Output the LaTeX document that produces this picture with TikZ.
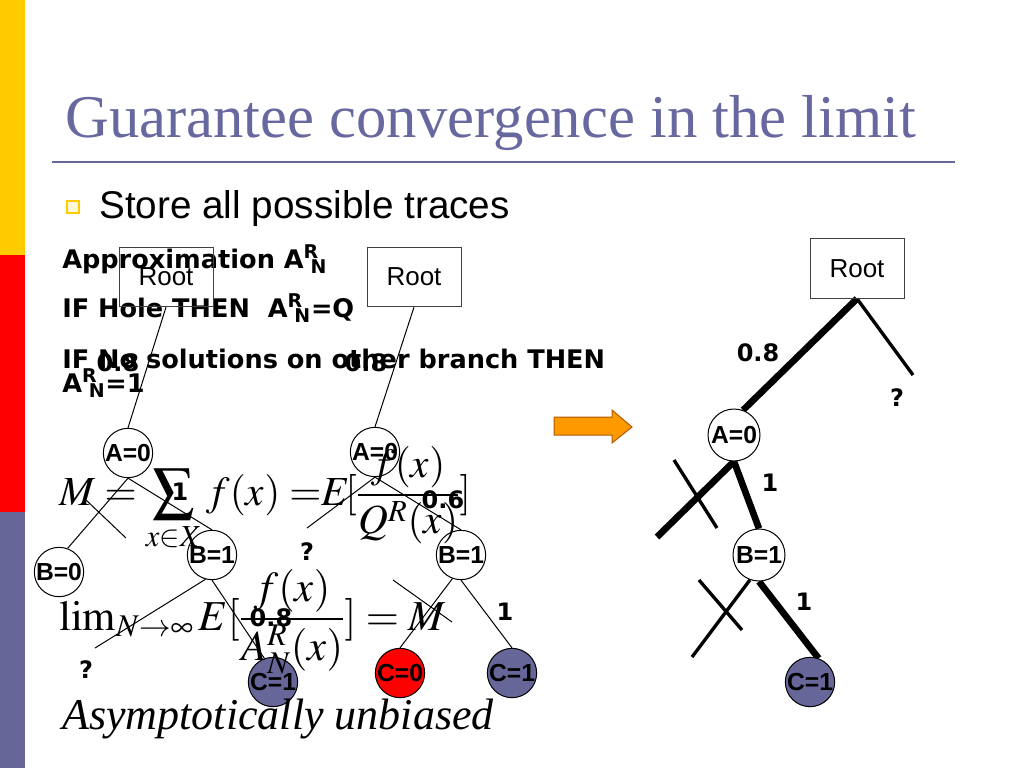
\documentclass[tikz,border=0pt]{standalone}
\usepackage{mathptmx}
\usepackage{fontspec}
\setmainfont{Liberation Serif}
\newfontfamily\arialfont{Liberation Sans}
\newfontfamily\verdanafont{DejaVu Sans}
\usetikzlibrary{positioning}
\usetikzlibrary{backgrounds}

\definecolor{slate}{RGB}{102,102,153}
\definecolor{titleblue}{RGB}{104,104,160}
\definecolor{baryellow}{RGB}{255,204,0}
\definecolor{arroworange}{RGB}{255,153,0}

\newcommand{\arn}{A\textsuperscript{R}\kern-0.33em\textsubscript{N}}

\tikzset{
  rootbox/.style={draw=black!75, line width=0.75pt, minimum width=70.5pt, minimum height=44.5pt, inner sep=0pt, font=\arialfont\fontsize{19.5}{19.5}\selectfont},
  varnode/.style={circle, draw, line width=0.75pt, fill=white, inner sep=0pt, minimum size=37pt, font=\arialfont\bfseries\fontsize{18.5}{18.5}\selectfont},
  bigvar/.style={varnode, minimum size=39pt},
  edgelabel/.style={inner sep=0pt, font=\verdanafont\bfseries\fontsize{18}{18}\selectfont},
  ruletext/.style={anchor=base west, inner sep=0pt, font=\verdanafont\bfseries\fontsize{19.2}{19.2}\selectfont},
  thinedge/.style={line width=0.75pt},
  midedge/.style={line width=2.5pt},
  thickedge/.style={line width=5pt}
}

\begin{document}
\begin{tikzpicture}[x=0.75pt,y=-0.75pt]
\useasboundingbox (0,0) rectangle (1024,768);
\fill[baryellow] (0,0) rectangle (25,255);
\fill[red] (0,255) rectangle (25,512);
\fill[slate] (0,512) rectangle (25,768);

\node[anchor=base west, inner sep=0pt, text=titleblue, font=\fontsize{45.5}{45.5}\selectfont] (title) at (65,137) {Guarantee convergence in the limit};
\draw[slate, line width=2pt] (52,162) -- (955,162);
\draw[baryellow, line width=2.2pt, fill=baryellow!15] (67,201) rectangle (79,213);
\node[anchor=base west, inner sep=0pt, font=\arialfont\fontsize{29}{29}\selectfont] (bullet) at (99,218) {Store all possible traces};

\node[ruletext] (approx) at (62,268) {Approximation \arn};
\node[ruletext] (hole) at (62,317) {IF Hole THEN\ \ \arn=Q};
\node[ruletext] (nosol) at (62,368) {IF No solutions on other branch THEN};
\node[ruletext] (one) at (62,392) {\arn=1};

\node[rootbox] (R1) at (166,277) {Root};
\node[varnode] (A1) at (128,453) {A=0};
\node[varnode] (B01) at (59,572) {B=0};
\node[varnode] (B11) at (212,555) {B=1};
\node[varnode, fill=slate] (C11) at (273,682) {C=1};
\coordinate (q1) at (95,648);
\coordinate (x1a) at (86,500);
\coordinate (x1b) at (126,538);
\node[edgelabel] (l1a) at (118,363) {0.8};
\node[edgelabel] (l1b) at (180,492) {1};
\node[edgelabel] (l1c) at (271,618) {0.8};
\node[edgelabel] (l1d) at (86,670) {?};

\node[rootbox] (R2) at (414,277) {Root};
\node[varnode] (A2) at (375,452) {A=0};
\node[varnode] (B12) at (461,555) {B=1};
\node[varnode, fill=red] (C02) at (400,673) {C=0};
\node[varnode, fill=slate] (C12) at (512,673) {C=1};
\coordinate (q2) at (307,528);
\coordinate (x2a) at (393,580);
\coordinate (x2b) at (452,622);
\node[edgelabel] (l2a) at (366,363) {0.8};
\node[edgelabel] (l2b) at (307,552) {?};
\node[edgelabel] (l2c) at (443,500) {0.6};
\node[edgelabel] (l2d) at (505,612) {1};

\draw[draw=orange!70!black, line width=0.75pt, fill=arroworange] (554,417) -- (612,417) -- (612,410) -- (632,427) -- (612,443) -- (612,435) -- (554,435) -- cycle;

\node[rootbox] (R3) at (857,268.5) {Root};
\node[bigvar] (A3) at (734,435) {A=0};
\node[bigvar] (B13) at (759,555) {B=1};
\node[varnode, fill=slate] (C13) at (810,682) {C=1};
\coordinate (q3) at (913,375);
\coordinate (cutA) at (657,537);
\coordinate (cutB) at (692,657);
\coordinate (x3a) at (674,460);
\coordinate (x3b) at (717,528);
\coordinate (x3c) at (699,580);
\coordinate (x3d) at (742,630);
\node[edgelabel] (l3a) at (758,353) {0.8};
\node[edgelabel] (l3b) at (897,398) {?};
\node[edgelabel] (l3c) at (770,483) {1};
\node[edgelabel] (l3d) at (804,602) {1};

\begin{scope}[on background layer]
\fill[white] (0,0) rectangle (1024,768);
\draw[thinedge] (R1.south) -- (A1.north);
\draw[thinedge] (A1.south) -- (B01.70);
\draw[thinedge] (A1.south) -- (B11.north);
\draw[thinedge] (x1a) -- (x1b);
\draw[thinedge] (B11.255) -- (q1);
\draw[thinedge] (B11.south) -- (C11.110);
\draw[thinedge] (R2.south) -- (A2.north);
\draw[thinedge] (A2.south) -- (q2);
\draw[thinedge] (A2.south) -- (B12.north);
\draw[thinedge] (B12.250) -- (C02.north);
\draw[thinedge] (B12.south) -- (C12.north);
\draw[thinedge] (x2a) -- (x2b);
\draw[thickedge] (R3.south) -- (A3.70);
\draw[midedge] (R3.south) -- (q3);
\draw[thickedge] (A3.south) -- (B13.north);
\draw[thickedge] (A3.south) -- (cutA);
\draw[midedge] (x3a) -- (x3b);
\draw[midedge] (B13.250) -- (cutB);
\draw[thickedge] (B13.south) -- (C13.70);
\draw[midedge] (x3c) -- (x3d);
\end{scope}

\node[anchor=base west, inner sep=0pt, font=\fontsize{31}{31}\selectfont] (sumeq) at (59,505) {$\displaystyle M = \sum_{x\in X} f(x) =\mkern-4mu E\mkern-2mu[\frac{f(x)}{Q^R(x)}]$};
\node[anchor=base west, inner sep=0pt, font=\fontsize{32}{32}\selectfont] (limeq) at (59,630) {$\displaystyle \lim\nolimits_{N\to\infty} E[\frac{f(x)}{A^R_N(x)}] = M$};
\node[anchor=base west, inner sep=0pt, font=\itshape\fontsize{33}{33}\selectfont] (unbiased) at (62,729) {Asymptotically unbiased};
\end{tikzpicture}
\end{document}
